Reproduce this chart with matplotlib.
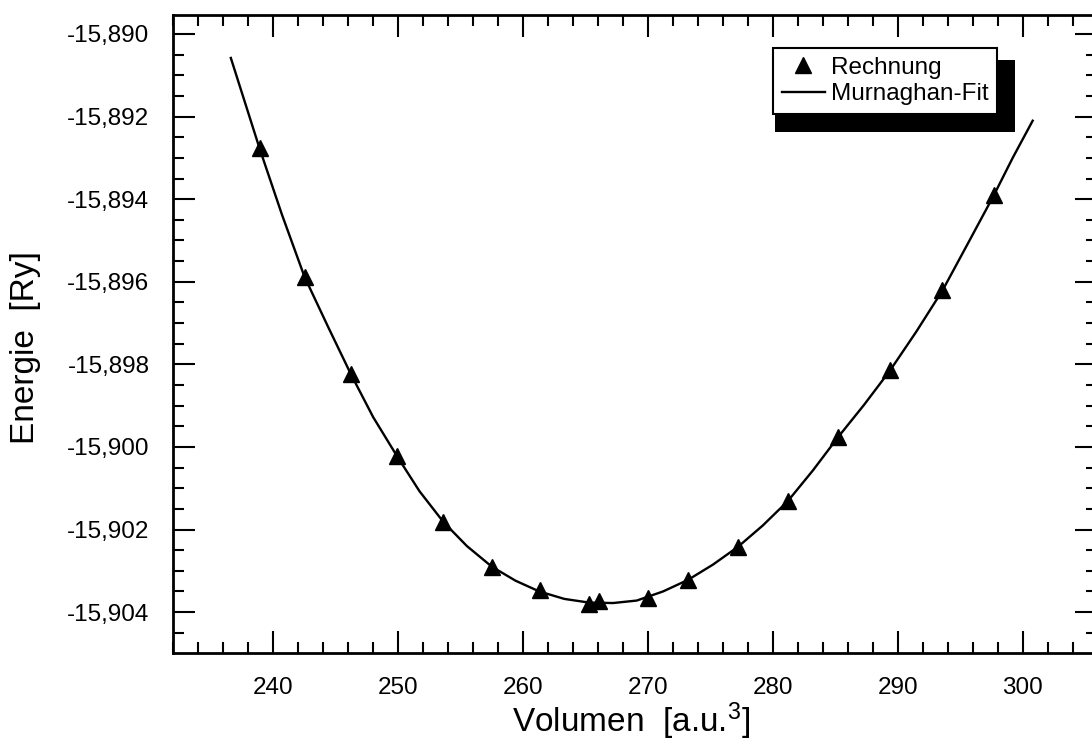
import matplotlib
matplotlib.use('Agg')
import matplotlib.pyplot as plt
from matplotlib.patches import Rectangle
from matplotlib.ticker import MultipleLocator, FuncFormatter

# Calculated points ("Rechnung")
volume = [238.93, 242.54, 246.20, 249.88, 253.61, 257.49, 261.35, 265.30, 266.10,
          270.02, 273.23, 277.23, 281.17, 285.24, 289.38, 293.56, 297.70]
energy = [-15.89277, -15.89588, -15.89823, -15.90022, -15.90181, -15.90290, -15.90347,
          -15.90380, -15.90372, -15.90367, -15.90322, -15.90242, -15.90131, -15.89975,
          -15.89814, -15.89620, -15.89390]

# Murnaghan fit curve
fit_volume = [236.6, 238.9, 240.7, 242.5, 244.4, 246.2, 248.0, 249.9, 251.7, 253.6,
              255.5, 257.5, 259.4, 261.3, 263.3, 265.3, 267.2, 269.1, 271.2, 273.2,
              275.2, 277.2, 279.2, 281.2, 283.2, 285.2, 287.3, 289.4, 291.5, 293.6,
              295.6, 297.7, 299.2, 300.8]
fit_energy = [-15.89058, -15.89277, -15.89438, -15.89588, -15.89710, -15.89823, -15.89928,
              -15.90022, -15.90107, -15.90181, -15.90240, -15.90290, -15.90324, -15.90350,
              -15.90368, -15.90377, -15.90378, -15.90372, -15.90350, -15.90322, -15.90285,
              -15.90242, -15.90190, -15.90131, -15.90057, -15.89977, -15.89898, -15.89814,
              -15.89720, -15.89620, -15.89508, -15.89390, -15.89300, -15.89210]

series_labels = ["Rechnung", "Murnaghan-Fit"]
x_label = "Volumen  [a.u.$^{\\mathrm{3}}$]"
y_label = "Energie  [Ry]"

plt.rcParams['font.family'] = ['Liberation Sans', 'DejaVu Sans']
plt.rcParams['mathtext.fontset'] = 'custom'
plt.rcParams['mathtext.rm'] = 'Liberation Sans'
plt.rcParams['mathtext.it'] = 'Liberation Sans:italic'
plt.rcParams['mathtext.bf'] = 'Liberation Sans:bold'

W, H = 1092, 752
fig = plt.figure(figsize=(W / 100, H / 100), dpi=100)
ax = fig.add_axes([173 / W, (H - 653) / H, (1097 - 173) / W, (653 - 15) / H])

ax.plot(fit_volume, fit_energy, color='black', lw=1.7, label=series_labels[1], zorder=2)
ax.plot(volume, energy, linestyle='none', marker='^', ms=12, color='black',
        markeredgecolor='black', label=series_labels[0], zorder=3)

ax.set_xlim(231.97, 305.95)
ax.set_ylim(-15.90499, -15.88954)

ax.xaxis.set_major_locator(MultipleLocator(10))
ax.xaxis.set_minor_locator(MultipleLocator(2))
ax.yaxis.set_major_locator(MultipleLocator(0.002))
ax.yaxis.set_minor_locator(MultipleLocator(0.0005))
ax.xaxis.set_major_formatter(FuncFormatter(lambda v, _: f"{v:.0f}"))
ax.yaxis.set_major_formatter(FuncFormatter(lambda v, _: f"{v:.3f}".replace('.', ',')))

ax.tick_params(which='both', direction='in', top=True, right=True, width=1.5, color='black')
ax.tick_params(which='major', length=16, labelsize=17.5, pad=17)
ax.tick_params(which='minor', length=8)
for s in ax.spines.values():
    s.set_linewidth(2.0)

ax.set_xlabel(x_label, fontsize=24)
ax.set_ylabel(y_label, fontsize=24)
ax.xaxis.set_label_coords(0.496, -0.075)
ax.yaxis.set_label_coords(-0.143, 0.478)

handles, labels = ax.get_legend_handles_labels()
order = [1, 0]
leg = ax.legend([handles[i] for i in order], [labels[i] for i in order],
                loc='upper left', bbox_to_anchor=(773 / W, (H - 48) / H),
                bbox_transform=fig.transFigure, borderaxespad=0,
                fontsize=17.5, numpoints=1, handlelength=1.8, handletextpad=0.25,
                borderpad=0.35, labelspacing=0.2, fancybox=False, framealpha=1,
                edgecolor='black')
leg.get_frame().set_linewidth(1.5)
leg.set_zorder(6)

fig.canvas.draw()
bb = leg.get_window_extent()
inv = ax.transAxes.inverted()
(sx0, sy0) = inv.transform((bb.x0 + 2, bb.y0 - 18))
(sx1, sy1) = inv.transform((bb.x1 + 18, bb.y1 - 12))
ax.add_patch(Rectangle((sx0, sy0), sx1 - sx0, sy1 - sy0, transform=ax.transAxes,
                       facecolor='black', edgecolor='none', zorder=5.5, clip_on=False))

fig.savefig('out.png', dpi=100)
